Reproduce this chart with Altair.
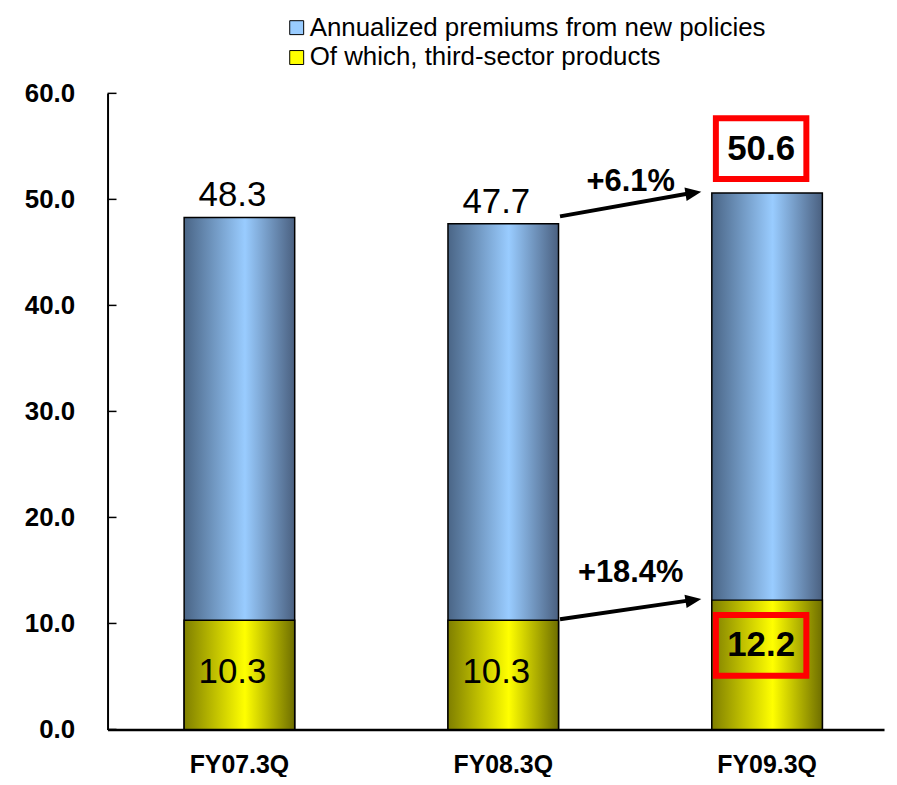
import altair as alt
import pandas as pd

# ---- data ----
categories = ["FY07.3Q", "FY08.3Q", "FY09.3Q"]
annualized = [48.3, 47.7, 50.6]
third_sector = [10.3, 10.3, 12.2]
series_names = ["Annualized premiums from new policies", "Of which, third-sector products"]
y_ticks = [0, 10, 20, 30, 40, 50, 60]
growth_labels = ["+6.1%", "+18.4%"]
arrow_from = [48.4, 10.4]
arrow_to = [50.6, 12.2]
growth_label_y = [51.6, 14.8]

FONT = "Liberation Sans"

df = pd.DataFrame({"cat": categories, "total": annualized, "third": third_sector})
df["third_mid"] = df["third"] / 2
regular = df.iloc[:2]
highlight = df.iloc[2:]

arrows = pd.DataFrame({
    "start": [categories[1]] * 2,
    "end": [categories[2]] * 2,
    "y_from": arrow_from,
    "y_to": arrow_to,
    "label": growth_labels,
    "label_y": growth_label_y,
})
ticks_df = pd.DataFrame({"v": y_ticks})
legend_df = pd.DataFrame({"series": series_names})

x_scale = alt.Scale(domain=categories, paddingInner=0.581, paddingOuter=0.262, align=0.554)
y_scale = alt.Scale(domain=[0, 60], nice=False, zero=True)

x_axis = alt.Axis(title=None, labelAngle=0, labelFont=FONT, labelFontSize=25,
                  labelFontWeight="bold", labelColor="black", ticks=False,
                  domainColor="black", domainWidth=2.5, labelPadding=23, grid=False)
y_axis = alt.Axis(title=None, values=y_ticks, format=".1f", labelFont=FONT,
                  labelFontSize=26, labelFontWeight="bold", labelColor="black",
                  ticks=False, domainColor="black", domainWidth=2, labelPadding=33,
                  grid=False)


def X(f):
    return alt.X(f, type="nominal", scale=x_scale, sort=categories, axis=x_axis, title=None)


def Y(f):
    return alt.Y(f, type="quantitative", scale=y_scale, axis=y_axis, title=None)


blue_grad = alt.LinearGradient(
    gradient="linear",
    stops=[alt.GradientStop(color="#4A6586", offset=0),
           alt.GradientStop(color="#99CCFF", offset=0.55),
           alt.GradientStop(color="#4A6080", offset=1)],
    x1=0, x2=1, y1=0, y2=0)
yellow_grad = alt.LinearGradient(
    gradient="linear",
    stops=[alt.GradientStop(color="#7F7F00", offset=0),
           alt.GradientStop(color="#FFFF00", offset=0.55),
           alt.GradientStop(color="#6E6E00", offset=1)],
    x1=0, x2=1, y1=0, y2=0)

blue_bars = alt.Chart(df).mark_bar(fill=blue_grad, stroke="black", strokeWidth=1.5).encode(
    x=X("cat"), y=Y("total"),
)
yellow_bars = alt.Chart(df).mark_bar(fill=yellow_grad, stroke="black", strokeWidth=1.5).encode(
    x=X("cat"), y=Y("third"),
)

tick_rules = alt.Chart(ticks_df).mark_rule(color="black", strokeWidth=1.5).encode(
    y=Y("v"), x=alt.value(0), x2=alt.value(9)
)

top_labels = alt.Chart(regular).mark_text(
    font=FONT, fontSize=35, baseline="alphabetic", dy=-11, dx=-7, color="black"
).encode(x=X("cat"), y=Y("total"), text=alt.Text("total:Q", format=".1f"))

inner_labels = alt.Chart(regular).mark_text(
    font=FONT, fontSize=35, baseline="middle", dy=-3, dx=-7, color="black"
).encode(x=X("cat"), y=Y("third_mid"), text=alt.Text("third:Q", format=".1f"))

box_shape = "M-1.49,-1L1.49,-1L1.49,1L-1.49,1Z"
hl_total_box = alt.Chart(highlight).mark_point(
    shape=box_shape, size=3721, filled=False, stroke="red", strokeWidth=6,
    opacity=1, yOffset=-44.5, xOffset=-6
).encode(x=X("cat"), y=Y("total"))
hl_total_text = alt.Chart(highlight).mark_text(
    font=FONT, fontSize=35, fontWeight="bold", baseline="middle", dy=-44.5, dx=-6, color="black"
).encode(x=X("cat"), y=Y("total"), text=alt.Text("total:Q", format=".1f"))
hl_third_box = alt.Chart(highlight).mark_point(
    shape=box_shape, size=3721, filled=False, stroke="red", strokeWidth=6,
    opacity=1, yOffset=45.5, xOffset=-6
).encode(x=X("cat"), y=Y("third"))
hl_third_text = alt.Chart(highlight).mark_text(
    font=FONT, fontSize=35, fontWeight="bold", baseline="middle", dy=45.5, dx=-6, color="black"
).encode(x=X("cat"), y=Y("third"), text=alt.Text("third:Q", format=".1f"))

arrow_lines = alt.Chart(arrows).mark_rule(
    color="black", strokeWidth=4, xOffset=57, x2Offset=-76
).encode(x=X("start"), x2="end:N", y=Y("y_from"), y2="y_to:Q")
arrow_heads = alt.Chart(arrows).mark_point(
    shape="M1,0L-1,-0.85L-1,0.85Z", size=256, filled=True, color="black",
    opacity=1, angle=351, xOffset=-74
).encode(x=X("end"), y=Y("y_to"))
growth_text = alt.Chart(arrows).mark_text(
    font=FONT, fontSize=31, fontWeight="bold", baseline="middle", dx=128, color="black"
).encode(x=X("start"), y=Y("label_y"), text="label:N")

legend_layer = alt.Chart(legend_df).mark_square(opacity=0).encode(
    color=alt.Color(
        "series:N",
        scale=alt.Scale(domain=series_names, range=["#99CCFF", "#FFFF00"]),
        sort=series_names,
        legend=alt.Legend(
            title=None, orient="none", legendX=177, legendY=-79, direction="vertical",
            symbolType="square", symbolSize=196, symbolStrokeColor="black",
            symbolStrokeWidth=1, symbolOpacity=1, labelFont=FONT, labelFontSize=26,
            labelColor="black", rowPadding=4, labelOffset=0, padding=0, labelLimit=0,
        ),
    )
)

chart = alt.layer(
    blue_bars, yellow_bars, tick_rules, top_labels, inner_labels,
    hl_total_box, hl_total_text, hl_third_box, hl_third_text,
    arrow_lines, arrow_heads, growth_text, legend_layer,
).properties(
    width=780, height=639,
    padding={"left": 100, "top": 84, "right": 5, "bottom": 46},
    autosize=alt.AutoSizeParams(type="none"),
    background="white",
).configure_view(strokeWidth=0, stroke="transparent")

chart.save("out.html", embed_options={"renderer": "svg", "actions": False})
